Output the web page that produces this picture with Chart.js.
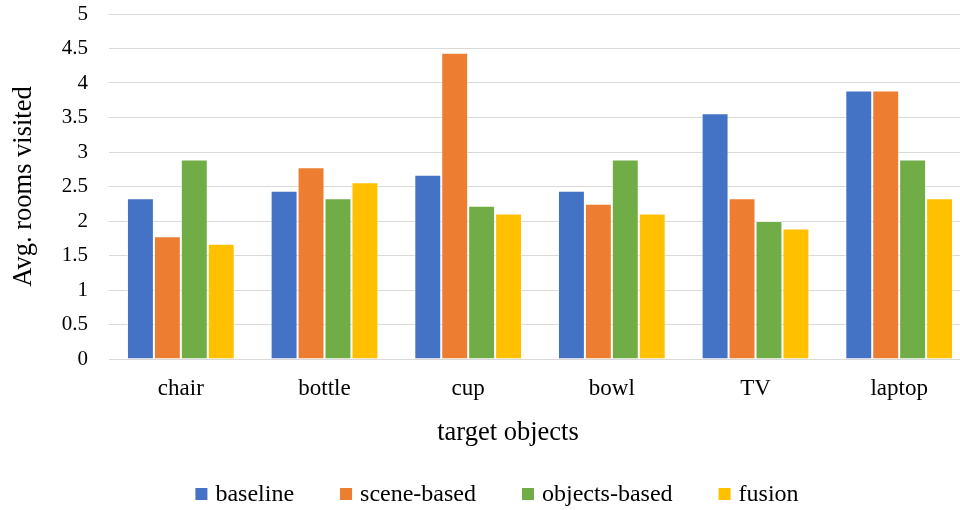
<!DOCTYPE html>
<html>
<head>
<meta charset="utf-8">
<script src="https://cdn.jsdelivr.net/npm/chart.js@4.4.0/dist/chart.umd.min.js"></script>
<style>
  html, body { margin: 0; padding: 0; overflow: hidden; background: #fff; width: 960px; height: 510px; }
  #wrap { position: relative; width: 972px; height: 510px; }
</style>
</head>
<body>
<div id="wrap"><canvas id="c" width="972" height="510"></canvas></div>
<script>
const categories = ['chair', 'bottle', 'cup', 'bowl', 'TV', 'laptop'];
const baseline = [2.33, 2.44, 2.67, 2.44, 3.56, 3.89];
const sceneBased = [1.78, 2.78, 4.44, 2.25, 2.33, 3.89];
const objectsBased = [2.89, 2.33, 2.22, 2.89, 2.00, 2.89];
const fusion = [1.67, 2.56, 2.11, 2.11, 1.89, 2.33];
const seriesNames = ['baseline', 'scene-based', 'objects-based', 'fusion'];
const seriesColors = ['#4472C4', '#ED7D31', '#70AD47', '#FFC000'];
const yTickLabels = ['0', '0.5', '1', '1.5', '2', '2.5', '3', '3.5', '4', '4.5', '5'];
const xTitle = 'target objects';
const yTitle = 'Avg. rooms visited';

const SERIF = '"Liberation Serif", "Times New Roman", serif';

// Draws the x-axis title and a single-row legend below the plot.
const bottomText = {
  id: 'bottomText',
  afterDraw(chart) {
    const ctx = chart.ctx;
    ctx.save();
    ctx.fillStyle = '#000';
    ctx.textBaseline = 'middle';
    ctx.font = '26.5px ' + SERIF;
    ctx.textAlign = 'center';
    ctx.fillText(xTitle, 508, 433);

    ctx.font = '24px ' + SERIF;
    ctx.textAlign = 'left';
    const box = 12, boxGap = 8, itemGap = 46;
    const items = chart.data.datasets.map(ds => ({
      label: ds.label, color: ds.backgroundColor,
      w: box + boxGap + ctx.measureText(ds.label).width
    }));
    const total = items.reduce((s, it) => s + it.w, 0) + itemGap * (items.length - 1);
    let x = 497 - total / 2;
    const y = 494;
    items.forEach(it => {
      ctx.fillStyle = it.color;
      ctx.fillRect(x, y - box / 2, box, box);
      ctx.fillStyle = '#000';
      ctx.fillText(it.label, x + box + boxGap, y + 1);
      x += it.w + itemGap;
    });
    ctx.restore();
  }
};

const seriesData = [baseline, sceneBased, objectsBased, fusion];

new Chart(document.getElementById('c'), {
  type: 'bar',
  data: {
    labels: categories,
    datasets: seriesNames.map((name, i) => ({
      label: name,
      data: seriesData[i],
      backgroundColor: seriesColors[i],
      borderColor: 'rgba(255,255,255,0.55)',
      borderWidth: 1,
      categoryPercentage: 0.75,
      barPercentage: 1.0
    }))
  },
  options: {
    responsive: false,
    devicePixelRatio: 1,
    animation: false,
    layout: { padding: { top: 14, right: 1, left: 0, bottom: 0 } },
    plugins: {
      legend: { display: false },
      tooltip: { enabled: false }
    },
    scales: {
      x: {
        grid: { display: false, drawTicks: false },
        border: { display: true, color: '#d9d9d9', width: 1 },
        ticks: { color: '#000', font: { family: SERIF, size: 23 }, padding: 16 },
        afterFit(scale) { scale.height = 151; scale.paddingLeft = 0; scale.paddingRight = 0; }
      },
      y: {
        min: 0,
        max: 5,
        grid: { color: '#d9d9d9', lineWidth: 1, drawTicks: false },
        border: { display: false },
        ticks: {
          stepSize: 0.5,
          color: '#000',
          font: { family: SERIF, size: 21 },
          padding: 21,
          callback: (v, i) => yTickLabels[i]
        },
        title: {
          display: true,
          text: yTitle,
          color: '#000',
          font: { family: SERIF, size: 26.5 },
          padding: { top: 8, bottom: 0 }
        },
        afterFit(scale) { scale.width = 109; scale.paddingTop = 0; scale.paddingBottom = 0; }
      }
    }
  },
  plugins: [bottomText]
});
</script>
</body>
</html>
